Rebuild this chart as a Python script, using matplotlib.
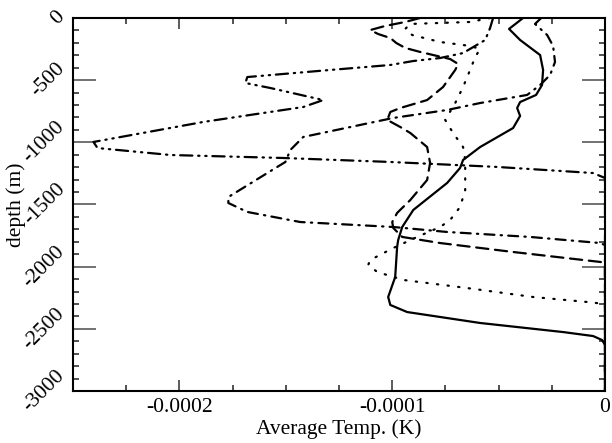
import numpy as np
import matplotlib
matplotlib.use("Agg")
import matplotlib.pyplot as plt
from matplotlib.ticker import MultipleLocator, FixedLocator

plt.rcParams["font.family"] = ["Liberation Serif", "DejaVu Serif"]
plt.rcParams["axes.unicode_minus"] = False

# temperature anomaly profiles, T in 1e-5 K, depth in m
solid_T = [-3.85, -4.51, -3.99, -3.05, -2.91, -2.96, -3.24, -3.99, -4.13, -3.99, -4.32,
           -5.87, -6.67, -6.81, -7.42, -9.01, -9.53, -9.72, -9.77, -9.86, -10.19, -10.09,
           -9.30, -5.87, -1.97, -0.56, -0.14, 0.0, 0.0]
solid_z = [0, -88, -177, -298, -418, -539, -619, -676, -724, -788, -885,
           -1038, -1142, -1206, -1327, -1544, -1681, -1786, -1842, -2083, -2244, -2308,
           -2365, -2453, -2526, -2558, -2590, -2630, -3000]

dashed_T = [-8.69, -9.39, -10.33, -11.03, -10.66, -10.09, -9.81, -9.39, -8.69, -7.28, -6.90,
            -7.04, -7.61, -8.36, -9.62, -10.09, -10.23, -9.62, -9.15, -8.36, -8.22, -8.36,
            -9.15, -9.77, -10.0, -9.95, -9.53, -7.75, -4.32, -0.23, 0.0, 0.0]
dashed_z = [0, -32, -64, -97, -129, -161, -201, -241, -273, -330, -370,
            -418, -555, -660, -724, -756, -820, -877, -925, -1038, -1166, -1303,
            -1464, -1568, -1641, -1689, -1761, -1810, -1882, -1962, -1970, -3000]

dotted_T = [-5.40, -6.34, -7.75, -9.15, -9.39, -9.06, -7.75, -6.34, -5.87, -6.10, -6.34,
            -6.67, -7.04, -7.51, -7.14, -6.67, -6.57, -6.57, -6.81, -7.28, -7.75, -8.83,
            -9.95, -11.03, -11.13, -10.70, -9.48, -6.48, -3.38, -0.85, 0.0, 0.0]
dotted_z = [0, -32, -40, -48, -88, -137, -193, -225, -249, -314, -418,
            -555, -684, -820, -925, -1038, -1142, -1383, -1520, -1625, -1681, -1761,
            -1850, -1946, -1987, -2043, -2107, -2172, -2244, -2284, -2300, -3000]

dashdot_T = [-3.00, -3.29, -2.72, -2.44, -2.35, -2.58, -3.05, -3.66, -5.87, -7.42, -9.95,
             -14.18, -14.79, -15.02, -15.87, -17.70, -17.70, -16.81, -14.32, -9.95, -7.42,
             -3.52, -0.23, 0.0, 0.0]
dashdot_z = [0, -48, -137, -225, -354, -458, -539, -619, -684, -740, -804,
             -957, -1062, -1158, -1247, -1440, -1488, -1560, -1641, -1681, -1721,
             -1761, -1810, -1826, -3000]

dashdotdot_T = [-5.26, -5.40, -5.63, -6.67, -7.75, -9.01, -10.09, -12.91, -16.81, -16.90,
                -15.73, -13.24, -14.18, -18.87, -24.04, -23.85, -20.42, -15.12, -10.09,
                -5.07, -0.56, 0.0, 0.0]
dashdotdot_z = [0, -80, -177, -282, -322, -346, -378, -418, -475, -523,
                -563, -660, -716, -836, -997, -1046, -1102, -1126, -1158,
                -1198, -1247, -1287, -3000]

x_ticks = [-0.0002, -0.0001, 0.0]
x_ticklabels = ["-0.0002", "-0.0001", "0"]
y_ticks = [0, -500, -1000, -1500, -2000, -2500, -3000]

profiles = [
    (solid_T, solid_z, "-"),
    (dashed_T, dashed_z, (0, (5.5, 3.0))),
    (dotted_T, dotted_z, (0, (0.6, 4.2))),
    (dashdot_T, dashdot_z, (0, (4.5, 2.8, 0.6, 2.8))),
    (dashdotdot_T, dashdotdot_z, (0, (5.5, 2.6, 0.6, 2.6, 0.6, 2.6))),
]

fig = plt.figure(figsize=(6.12, 4.43), dpi=100)
ax = fig.add_axes([0.1193, 0.1174, 0.8693, 0.8420])

for T, z, ls in profiles:
    ax.plot(np.array(T) * 1e-5, z, color="black", lw=1.6, ls=ls,
            dash_capstyle="round", solid_capstyle="round", solid_joinstyle="round")

ax.set_xlim(-0.00025, 0.0)
ax.set_ylim(-3000, 0)

ax.xaxis.set_major_locator(FixedLocator(x_ticks))
ax.set_xticklabels(x_ticklabels)
ax.xaxis.set_minor_locator(MultipleLocator(0.000025))
ax.yaxis.set_major_locator(FixedLocator(y_ticks))
ax.yaxis.set_minor_locator(MultipleLocator(100))

ax.tick_params(which="both", direction="in", top=True, right=True, labelsize=15.5)
ax.tick_params(axis="x", which="major", length=8, width=1.2, color="0.25", pad=5)
ax.tick_params(axis="y", which="major", length=16.5, width=1.2, color="0.35", pad=3)
ax.tick_params(which="minor", length=4.3, width=1.2, color="0.2")
for lbl in ax.get_yticklabels():
    lbl.set_rotation(45)
    lbl.set_ha("right")
    lbl.set_va("center")

for sp in ax.spines.values():
    sp.set_linewidth(1.5)

ax.set_xlabel("Average Temp. (K)", fontsize=15.5, labelpad=2)
ax.set_ylabel("depth (m)", fontsize=15.5)
ax.yaxis.set_label_coords(-0.088, 0.5)

fig.savefig("out.png", dpi=100)
